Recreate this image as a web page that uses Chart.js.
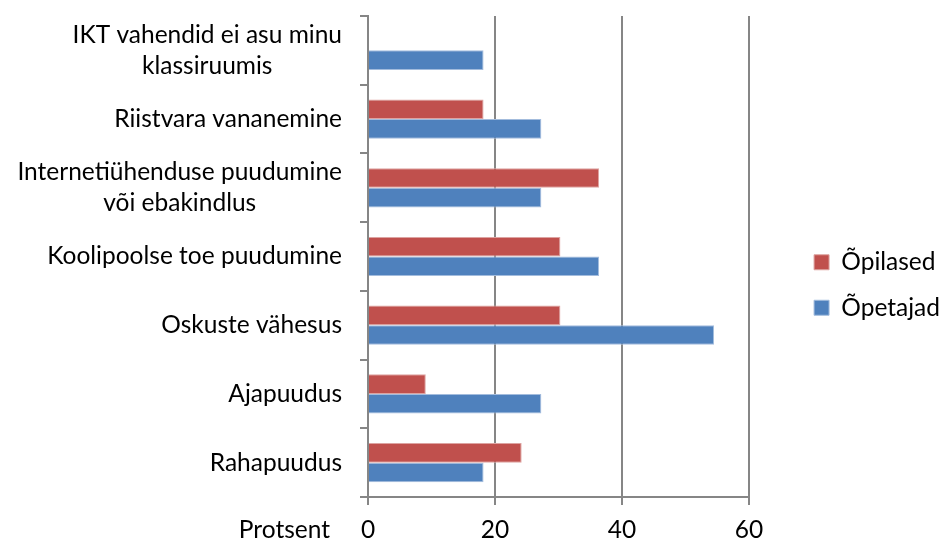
<!DOCTYPE html>
<html>
<head>
<meta charset="utf-8">
<script src="https://cdn.jsdelivr.net/npm/chart.js@4/dist/chart.umd.min.js"></script>
<style>
  html, body { margin: 0; padding: 0; background: #fff; }
  #wrap { width: 941px; height: 544px; }
</style>
</head>
<body>
<div id="wrap"><canvas id="chart"></canvas></div>
<script>
// categories, top to bottom as in the picture
var categories = [
  ['IKT vahendid ei asu minu', 'klassiruumis'],
  'Riistvara vananemine',
  ['Internetiühenduse puudumine', 'või ebakindlus'],
  'Koolipoolse toe puudumine',
  'Oskuste vähesus',
  'Ajapuudus',
  'Rahapuudus'
];
var seriesNames = ['Õpilased', 'Õpetajad'];
var opilased = [0, 18.2, 36.4, 30.3, 30.3, 9.1, 24.2];
var opetajad = [18.2, 27.3, 27.3, 36.4, 54.5, 27.3, 18.2];
var xTicks = [0, 20, 40, 60];
var xTitle = 'Protsent';

var FONT = 'Lato, "Open Sans", sans-serif';
var FSIZE = 24.5;
var GRID = '#868686';

// y labels are drawn here so multi line labels are centred like in Excel
var catLabels = {
  id: 'catLabels',
  afterLayout: function(chart) {
    // push legend against the right edge, a bit lower
    var lg = chart.legend;
    var w = lg.width;
    lg.left = chart.width - w + 9;
    lg.right = lg.left + w;
    lg.top += 5;
    lg.bottom += 5;
  },
  afterDraw: function(chart) {
    var ctx = chart.ctx, y = chart.scales.y, x = chart.scales.x;
    var right = chart.chartArea.left - 26;
    ctx.save();
    ctx.font = FSIZE + 'px ' + FONT;
    ctx.fillStyle = '#000';
    ctx.textBaseline = 'middle';
    ctx.textAlign = 'center';
    chart.data.labels.forEach(function(lab, i) {
      var lines = Array.isArray(lab) ? lab : [lab];
      var w = 0;
      lines.forEach(function(l) { w = Math.max(w, ctx.measureText(l).width); });
      var cy = y.getPixelForValue(i);
      var lh = 31;
      lines.forEach(function(l, k) {
        ctx.fillText(l, right - w / 2, cy + (k - (lines.length - 1) / 2) * lh);
      });
    });
    // axis title, sits left of the tick labels
    ctx.textAlign = 'right';
    ctx.fillText(xTitle, chart.chartArea.left - 38, x.top + 8 + 10 + 15);
    ctx.restore();
  }
};

new Chart(document.getElementById('chart'), {
  type: 'bar',
  data: {
    labels: categories,
    datasets: [
      { label: seriesNames[0], data: opilased, backgroundColor: '#C0504D', borderColor: '#DDA3A1', borderWidth: 1 },
      { label: seriesNames[1], data: opetajad, backgroundColor: '#4F81BD', borderColor: '#A3BCDD', borderWidth: 1 }
    ]
  },
  options: {
    indexAxis: 'y',
    responsive: true,
    maintainAspectRatio: false,
    animation: false,
    layout: { padding: { top: 16, right: 0, bottom: 0, left: 0 } },
    datasets: { bar: { categoryPercentage: 0.571, barPercentage: 1 } },
    plugins: {
      tooltip: { enabled: false },
      legend: {
        position: 'right',
        labels: {
          boxWidth: 15, boxHeight: 15, padding: 21, color: '#000',
          font: { family: FONT, size: FSIZE }
        }
      }
    },
    scales: {
      x: {
        min: 0, max: 60,
        afterBuildTicks: function(s) { s.ticks = xTicks.map(function(v) { return { value: v }; }); },
        afterFit: function(s) { s.paddingRight = 192; s.height = 47; },
        border: { color: GRID, width: 2 },
        grid: { color: GRID, lineWidth: 2, tickLength: 8, drawTicks: true },
        ticks: { color: '#000', padding: 10, font: { family: FONT, size: FSIZE } }
      },
      y: {
        afterFit: function(s) { s.width = 368; },
        border: { color: GRID, width: 2 },
        grid: { color: GRID, lineWidth: 2, tickLength: 8, drawOnChartArea: false, offset: true },
        ticks: { display: false }
      }
    }
  },
  plugins: [catLabels]
});
</script>
</body>
</html>
